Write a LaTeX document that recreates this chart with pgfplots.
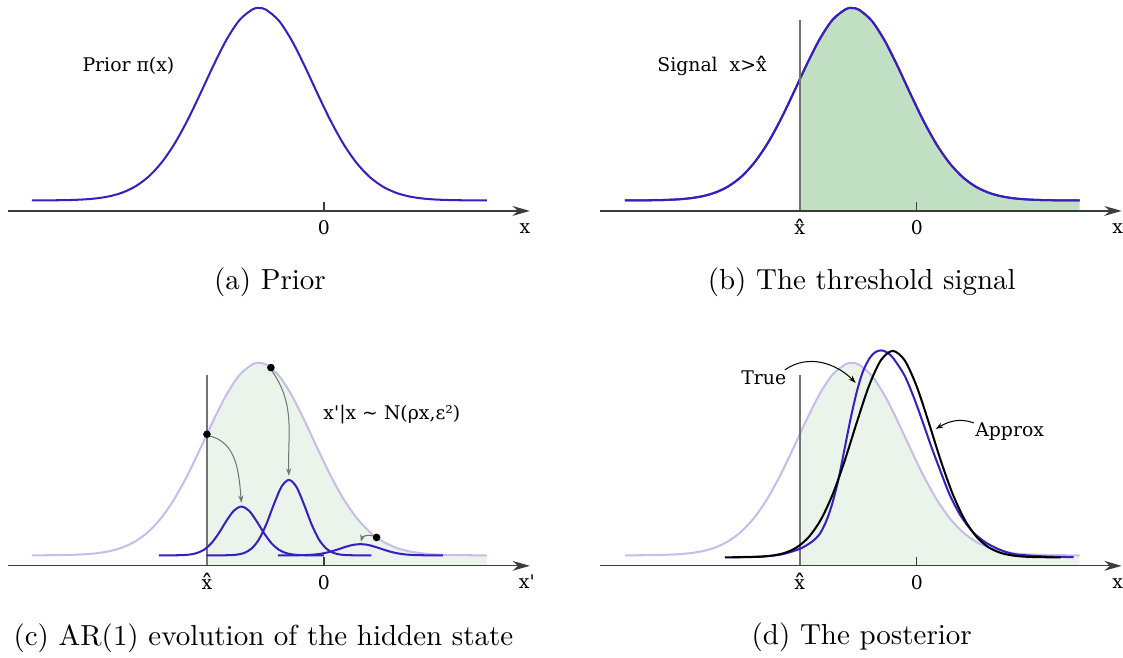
\documentclass[border=0pt]{standalone}
\usepackage{fontspec}
\usepackage{graphicx}
\usepackage{pgfplots}
\pgfplotsset{compat=1.18}
\usepackage{pgfplotstable}
\usepgfplotslibrary{fillbetween}
\usetikzlibrary{arrows.meta}
\newfontfamily\dv{DejaVu Serif}[Ligatures=TeXOff]
\newcommand\lbl{\dv\fontsize{6.5}{8}\selectfont}
\newcommand\xh{{\ooalign{x\cr\hidewidth\raisebox{-0.22em}{\scalebox{1.3}[1.35]{ˆ}}\hidewidth\cr}}}
\def\px{0.345pt}

\definecolor{curve}{RGB}{58,30,192}
\definecolor{deepfill}{RGB}{193,223,194}
\definecolor{lightfill}{RGB}{235,244,235}
\definecolor{faded}{RGB}{196,190,236}
\definecolor{axgray}{RGB}{60,60,60}
\definecolor{linegray}{RGB}{115,115,115}

% prior density, in picture units above the x axis
\pgfplotstableread{
x y
-292 10.53
-279 10.57
-266 10.69
-253 10.95
-240 11.51
-227 12.64
-214 14.78
-201 18.58
-188 24.88
-175 34.67
-162 48.87
-149 67.91
-136 91.60
-123 118.63
-110 146.54
-97 172.01
-84 191.45
-71 201.82
-65 203.00
-58 201.39
-45 190.24
-32 170.22
-19 144.42
-6 116.47
7 89.64
20 66.27
33 47.59
46 33.77
59 24.29
72 18.21
85 14.56
98 12.52
111 11.45
124 10.92
137 10.68
150 10.57
163 10.53
}\prior

% transition densities in panel (c)
\pgfplotstableread{
x y
-165 10.5
-157.5 10.5
-150 10.54
-142.5 10.69
-135 11.19
-127.5 12.64
-120 16.07
-112.5 22.67
-105 32.84
-97.5 44.99
-90 55.24
-82.5 59.3
-75 55.24
-67.5 44.99
-60 32.84
-52.5 22.67
-45 16.07
-37.5 12.64
-30 11.19
-22.5 10.69
-15 10.54
-7.5 10.5
0 10.5
}\transA

\pgfplotstableread{
x y
-117.5 10.5
-110 10.5
-102.5 10.53
-95 10.65
-87.5 11.14
-80 12.77
-72.5 17.13
-65 26.41
-57.5 41.95
-50 61.66
-42.5 79.0
-35 86
-27.5 79.0
-20 61.66
-12.5 41.95
-5 26.41
2.5 17.13
10 12.77
17.5 11.14
25 10.65
32.5 10.53
40 10.5
47.5 10.5
}\transB

\pgfplotstableread{
x y
-46 10.5
-38.5 10.5
-31 10.54
-23.5 10.62
-16 10.86
-8.5 11.39
-1 12.43
6.5 14.14
14 16.45
21.5 18.95
29 20.94
36.5 21.7
44 20.94
51.5 18.95
59 16.45
66.5 14.14
74 12.43
81.5 11.39
89 10.86
96.5 10.62
104 10.54
111.5 10.5
119 10.5
}\transC

% posterior: true and approximation
\pgfplotstableread{
x y
-185 8.7
-155 9.3
-135 11.5
-117 17
-105 24
-97 32
-90 46
-84 64
-78 88
-72 118
-66 148
-60 174
-54 194
-47 208
-41 214
-35 215.5
-29 213
-23 207
-12 190
-2 166
8 138
15 118
24 94
33 71
44 50
56 34
68 24
80 17.5
92 13
103 11
130 9.3
157 8.7
}\truepost

\pgfplotstableread{
x y
-192 8.5
-180 8.57
-168 8.73
-156 9.17
-144 10.32
-132 12.96
-120 18.48
-108 28.80
-96 46.06
-84 71.73
-72 105.33
-60 143.37
-48 179.38
-36 205.46
-24 215
-12 205.46
0 179.38
12 143.37
24 105.33
36 71.73
48 46.06
60 28.80
72 18.48
84 12.96
96 10.32
108 9.17
120 8.73
132 8.57
144 8.5
}\approxpost

\pgfplotsset{
  panel/.style={x=\px, y=\px, xmin=-320, xmax=205, ymin=0, ymax=200,
    hide axis, clip=false, anchor=origin},
  dens/.style={smooth, line width=0.7pt, color=curve},
}
\tikzset{
  xaxis/.style={axgray, line width=0.45pt, -{Stealth[length=6pt,width=3.4pt]}},
  ann/.style={linegray, line width=0.35pt, -{Stealth[length=2.6pt,width=1.8pt]}},
}

\begin{document}
\begin{tikzpicture}[every node/.append style={inner sep=0pt}]
\path (0,0) rectangle (1123*\px,-658*\px);

% (a)
\begin{axis}[panel, at={(324*\px,-211*\px)}]
\addplot[dens] table {\prior};
\draw[xaxis] (axis cs:-316,0) -- (axis cs:206,0);
\draw[axgray, line width=0.45pt] (axis cs:0,0) -- (axis cs:0,9);
\node[font=\lbl, anchor=base] at (axis cs:0,-24) {0};
\node[font=\lbl, anchor=base] at (axis cs:201,-23) {x};
\node[font=\lbl, anchor=base west] at (axis cs:-242,139) {Prior π(x)};
\node[anchor=base] at (axis cs:-54,-79) {(a) Prior};
\end{axis}

% (b)
\begin{axis}[panel, at={(917*\px,-211*\px)}]
\addplot[draw=none, name path=base, forget plot] coordinates {(-292,0) (163,0)};
\addplot[dens, name path=pr] table {\prior};
\addplot[deepfill, draw=none] fill between[of=pr and base, soft clip={domain=-117:163}];
\addplot[dens] table {\prior};
\draw[linegray, line width=0.55pt] (axis cs:-117,0) -- (axis cs:-117,191);
\draw[xaxis] (axis cs:-317,0) -- (axis cs:205,0);
\draw[axgray, line width=0.45pt] (axis cs:0,0) -- (axis cs:0,9);
\node[font=\lbl, anchor=base] at (axis cs:0,-24) {0};
\node[font=\lbl, anchor=base] at (axis cs:-117,-24) {\xh};
\node[font=\lbl, anchor=base] at (axis cs:201,-23) {x};
\node[font=\lbl, anchor=base west] at (axis cs:-260,139) {Signal\ \ x>\xh};
\node[anchor=base] at (axis cs:-55,-79) {(b) The threshold signal};
\end{axis}

% (c)
\begin{axis}[panel, at={(324*\px,-566*\px)}]
\addplot[draw=none, name path=base, forget plot] coordinates {(-292,0) (163,0)};
\addplot[draw=none, name path=pr] table {\prior};
\addplot[lightfill, draw=none] fill between[of=pr and base, soft clip={domain=-117:163}];
\addplot[smooth, line width=0.7pt, color=faded] table {\prior};
\draw[linegray, line width=0.55pt] (axis cs:-117,0) -- (axis cs:-117,191);
\addplot[dens] table {\transA};
\addplot[dens] table {\transB};
\addplot[dens] table {\transC};
\draw[ann] (axis cs:-115,130) to[out=-12, in=95] (axis cs:-82.5,63);
\draw[ann] (axis cs:-52,195) to[out=-55, in=92] (axis cs:-35,90);
\draw[ann] (axis cs:49,30) to[out=160, in=75] (axis cs:37,24);
\addplot[only marks, mark=*, mark size=1.1pt, black] coordinates {(-117,131.6) (-53,198.3) (52.7,28.4)};
\draw[xaxis] (axis cs:-316,0) -- (axis cs:206,0);
\draw[axgray, line width=0.45pt] (axis cs:0,0) -- (axis cs:0,9);
\node[font=\lbl, anchor=base] at (axis cs:0,-24) {0};
\node[font=\lbl, anchor=base] at (axis cs:-117,-24) {\xh};
\node[font=\lbl, anchor=base] at (axis cs:203,-23) {x'};
\node[font=\lbl, anchor=base west] at (axis cs:-1,146) {x'|x {\char`\~} N(ρx,ε²)};
\node[anchor=base] at (axis cs:-60.5,-80) {(c) AR(1) evolution of the hidden state};
\end{axis}

% (d)
\begin{axis}[panel, at={(917*\px,-566*\px)}]
\addplot[draw=none, name path=base, forget plot] coordinates {(-292,0) (163,0)};
\addplot[draw=none, name path=pr] table {\prior};
\addplot[lightfill, draw=none] fill between[of=pr and base, soft clip={domain=-117:163}];
\addplot[smooth, line width=0.7pt, color=faded] table {\prior};
\draw[linegray, line width=0.55pt] (axis cs:-117,0) -- (axis cs:-117,191);
\addplot[dens] table {\truepost};
\addplot[smooth, line width=0.7pt, black] table {\approxpost};
\draw[black, line width=0.35pt, -{Stealth[length=2.6pt,width=1.8pt]}] (axis cs:-132,196) to[out=35, in=135] (axis cs:-61,183);
\draw[black, line width=0.35pt, -{Stealth[length=2.6pt,width=1.8pt]}] (axis cs:57,143) to[out=160, in=30] (axis cs:19,137);
\draw[xaxis] (axis cs:-317,0) -- (axis cs:205,0);
\draw[axgray, line width=0.45pt] (axis cs:0,0) -- (axis cs:0,9);
\node[font=\lbl, anchor=base] at (axis cs:0,-24) {0};
\node[font=\lbl, anchor=base] at (axis cs:-117,-24) {\xh};
\node[font=\lbl, anchor=base] at (axis cs:201,-23) {x};
\node[font=\lbl, anchor=base west] at (axis cs:-176,181) {True};
\node[font=\lbl, anchor=base west] at (axis cs:58,129) {Approx};
\node[anchor=base] at (axis cs:-55,-79) {(d) The posterior};
\end{axis}
\end{tikzpicture}
\end{document}
